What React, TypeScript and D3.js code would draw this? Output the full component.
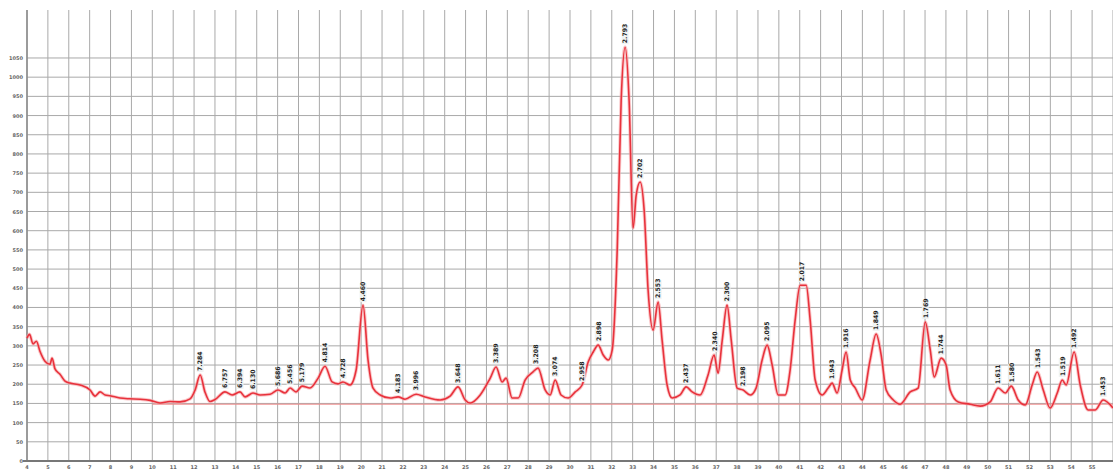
import { useEffect, useRef } from 'react';
import * as d3 from 'd3';

const WIDTH = 1113;
const HEIGHT = 471;
const MARGIN = { top: 10, right: 0, bottom: 10, left: 27 };

// diffraction pattern: 2-theta (deg) and intensity (counts)
const TWO_THETA = [
  4.0, 4.12, 4.29, 4.45, 4.62, 4.86, 5.1, 5.2, 5.34, 5.58, 5.82, 6.06, 6.54, 7.02, 7.26, 7.5,
  7.74, 7.98, 8.45, 8.9, 9.41, 9.9, 10.37, 10.85, 11.33, 11.81, 12.05, 12.29, 12.52, 12.76, 13.0,
  13.48, 13.82, 14.2, 14.44, 14.82, 15.16, 15.64, 16.02, 16.36, 16.6, 16.88, 17.17, 17.55, 17.94,
  18.27, 18.61, 18.89, 19.13, 19.47, 19.76, 20.09, 20.33, 20.57, 20.91, 21.39, 21.77, 22.1, 22.63,
  23.06, 23.78, 24.26, 24.64, 24.98, 25.22, 25.7, 26.18, 26.46, 26.75, 26.94, 27.23, 27.52, 27.85,
  28.23, 28.47, 28.81, 29.05, 29.29, 29.57, 29.91, 30.25, 30.58, 30.87, 31.11, 31.35, 31.59, 31.83,
  32.02, 32.26, 32.45, 32.64, 32.83, 33.02, 33.17, 33.36, 33.55, 33.74, 33.98, 34.22, 34.41, 34.65,
  34.89, 35.27, 35.56, 35.85, 36.23, 36.61, 36.9, 37.09, 37.29, 37.52, 37.72, 38.0, 38.29, 38.63,
  38.91, 39.2, 39.44, 39.68, 39.97, 40.3, 40.54, 40.78, 41.02, 41.31, 41.5, 41.74, 42.07, 42.36,
  42.55, 42.79, 43.03, 43.22, 43.42, 43.66, 43.99, 44.37, 44.66, 44.9, 45.14, 45.48, 45.81, 46.29,
  46.67, 47.01, 47.25, 47.44, 47.77, 48.01, 48.2, 48.59, 49.16, 49.64, 50.12, 50.5, 50.84, 51.13,
  51.46, 51.8, 52.13, 52.37, 52.66, 52.99, 53.33, 53.57, 53.76, 54.14, 54.43, 54.81, 55.15, 55.53,
  56.0,
];
const INTENSITY = [
  320, 330, 305, 312, 286, 260, 252, 268, 240, 226, 208, 203, 198, 185, 169, 180,
  172, 170, 164, 162, 161, 158, 151, 155, 154, 162, 185, 224, 180, 155, 160,
  180, 172, 180, 167, 177, 172, 174, 185, 177, 190, 180, 195, 190, 216,
  247, 206, 201, 206, 198, 237, 406, 263, 190, 172, 164, 167, 161, 174,
  167, 159, 169, 193, 159, 151, 172, 216, 245, 206, 216, 164, 164, 211,
  232, 242, 185, 172, 211, 172, 164, 180, 198, 258, 284, 302, 276, 263,
  289, 549, 940, 1078, 940, 607, 693, 727, 654, 445, 341, 414, 315, 198,
  164, 172, 193, 180, 172, 224, 276, 229, 315, 406, 315, 190, 185, 172,
  190, 263, 302, 250, 172, 172, 237, 367, 458, 458, 367, 211, 172, 190,
  203, 177, 237, 284, 211, 190, 159, 263, 331, 276, 185, 159, 148, 180,
  190, 362, 289, 219, 268, 250, 185, 154, 148, 143, 154, 190, 177, 195,
  159, 146, 198, 232, 185, 138, 177, 211, 198, 284, 198, 133, 133, 159,
  138,
];

// labelled peaks (d-spacing text)
const PEAK_POS = [
  12.29, 13.48, 14.2, 14.82, 16.02, 16.6, 17.17, 18.27, 19.13, 20.09, 21.77, 22.63, 24.64, 26.46,
  28.35, 29.29, 30.58, 31.35, 32.64, 33.36, 34.22, 35.56, 36.95, 37.52, 38.29, 39.44, 41.1, 42.55,
  43.22, 44.66, 47.01, 47.77, 50.5, 51.13, 52.37, 53.57, 54.14, 55.53,
];
const PEAK_LABELS = [
  '7.284', '6.757', '6.394', '6.130', '5.686', '5.456', '5.179', '4.814', '4.728', '4.460', '4.183',
  '3.996', '3.648', '3.389', '3.208', '3.074', '2.958', '2.898', '2.793', '2.702', '2.553', '2.437',
  '2.340', '2.300', '2.198', '2.095', '2.017', '1.943', '1.916', '1.849', '1.769', '1.744', '1.611',
  '1.580', '1.543', '1.519', '1.492', '1.453',
];

const X_GRID = d3.range(4, 57, 1);
const X_TICKS = d3.range(4, 56, 1);
const Y_TICKS = d3.range(0, 1051, 50);
const BACKGROUND_LEVEL = 148;
const BACKGROUND_FROM = 10;

const FONT = '"DejaVu Sans", Arial, sans-serif';

export default function App() {
  const svgRef = useRef<SVGSVGElement>(null);

  useEffect(() => {
    const svg = d3.select(svgRef.current);
    svg.selectAll('*').remove();

    const x = d3.scaleLinear().domain([4, 56]).range([MARGIN.left, WIDTH - MARGIN.right]);
    const y = d3.scaleLinear().domain([0, 1175]).range([HEIGHT - MARGIN.bottom, MARGIN.top]);

    svg.append('rect').attr('width', WIDTH).attr('height', HEIGHT).attr('fill', '#fff');

    // grid
    const grid = svg.append('g').attr('stroke', '#a9a9a9').attr('stroke-width', 1);
    grid
      .selectAll('line.v')
      .data(X_GRID)
      .join('line')
      .attr('x1', (d) => x(d))
      .attr('x2', (d) => x(d))
      .attr('y1', y.range()[1])
      .attr('y2', y(0));
    grid
      .selectAll('line.h')
      .data(Y_TICKS.slice(1))
      .join('line')
      .attr('x1', x(4))
      .attr('x2', WIDTH)
      .attr('y1', (d) => y(d))
      .attr('y2', (d) => y(d));

    // axes
    svg
      .append('line')
      .attr('x1', x(4))
      .attr('x2', x(4))
      .attr('y1', y.range()[1])
      .attr('y2', y(0))
      .attr('stroke', '#888')
      .attr('stroke-width', 1.5);
    svg
      .append('line')
      .attr('x1', x(4) - 4)
      .attr('x2', WIDTH)
      .attr('y1', y(0))
      .attr('y2', y(0))
      .attr('stroke', '#777')
      .attr('stroke-width', 2);

    svg
      .append('g')
      .selectAll('text')
      .data(Y_TICKS)
      .join('text')
      .attr('x', x(4) - 4)
      .attr('y', (d) => y(d) + 2)
      .attr('text-anchor', 'end')
      .style('font-family', FONT)
      .style('font-size', '5px')
      .style('font-weight', 'bold')
      .style('fill', '#666')
      .text((d) => d);

    svg
      .append('g')
      .selectAll('text')
      .data(X_TICKS)
      .join('text')
      .attr('x', (d) => x(d))
      .attr('y', y(0) + 8)
      .attr('text-anchor', 'middle')
      .style('font-family', FONT)
      .style('font-size', '5px')
      .style('font-weight', 'bold')
      .style('fill', '#666')
      .text((d) => d);

    // background level
    svg
      .append('line')
      .attr('x1', x(BACKGROUND_FROM))
      .attr('x2', WIDTH)
      .attr('y1', y(BACKGROUND_LEVEL))
      .attr('y2', y(BACKGROUND_LEVEL))
      .attr('stroke', '#f08a8a')
      .attr('stroke-width', 1);

    // pattern
    const points: [number, number][] = TWO_THETA.map((t, i) => [t, INTENSITY[i]]);
    const line = d3
      .line<[number, number]>()
      .x((d) => x(d[0]))
      .y((d) => y(d[1]))
      .curve(d3.curveMonotoneX);

    svg
      .append('path')
      .datum(points)
      .attr('d', line)
      .attr('fill', 'none')
      .attr('stroke', '#f7a3a6')
      .attr('stroke-width', 3.5)
      .attr('stroke-opacity', 0.6);
    svg
      .append('path')
      .datum(points)
      .attr('d', line)
      .attr('fill', 'none')
      .attr('stroke', '#e8323c')
      .attr('stroke-width', 1.6)
      .attr('stroke-linejoin', 'round');

    // peak labels, placed just above the local maximum of the pattern
    const localMax = (t: number) => {
      const near = points.filter((p) => Math.abs(p[0] - t) <= 0.2);
      return d3.max(near, (p) => p[1]) ?? d3.max(points, (p) => p[1])!;
    };

    const labels = svg.append('g');
    PEAK_POS.forEach((t, i) => {
      const px = x(t);
      const py = y(localMax(t)) - 4;
      const g = labels.append('g').attr('transform', `translate(${px},${py}) rotate(-90)`);
      g.append('rect')
        .attr('x', -1)
        .attr('y', -3.5)
        .attr('width', 19)
        .attr('height', 7)
        .attr('fill', '#eef2f2')
        .attr('opacity', 0.9);
      g.append('text')
        .attr('x', 0)
        .attr('y', 2.3)
        .style('font-family', FONT)
        .style('font-size', '6.2px')
        .style('font-weight', 'bold')
        .style('fill', '#222')
        .text(PEAK_LABELS[i]);
    });
  }, []);

  return (
    <svg
      ref={svgRef}
      width={WIDTH}
      height={HEIGHT}
      style={{ position: 'absolute', left: 0, top: 0 }}
    />
  );
}
